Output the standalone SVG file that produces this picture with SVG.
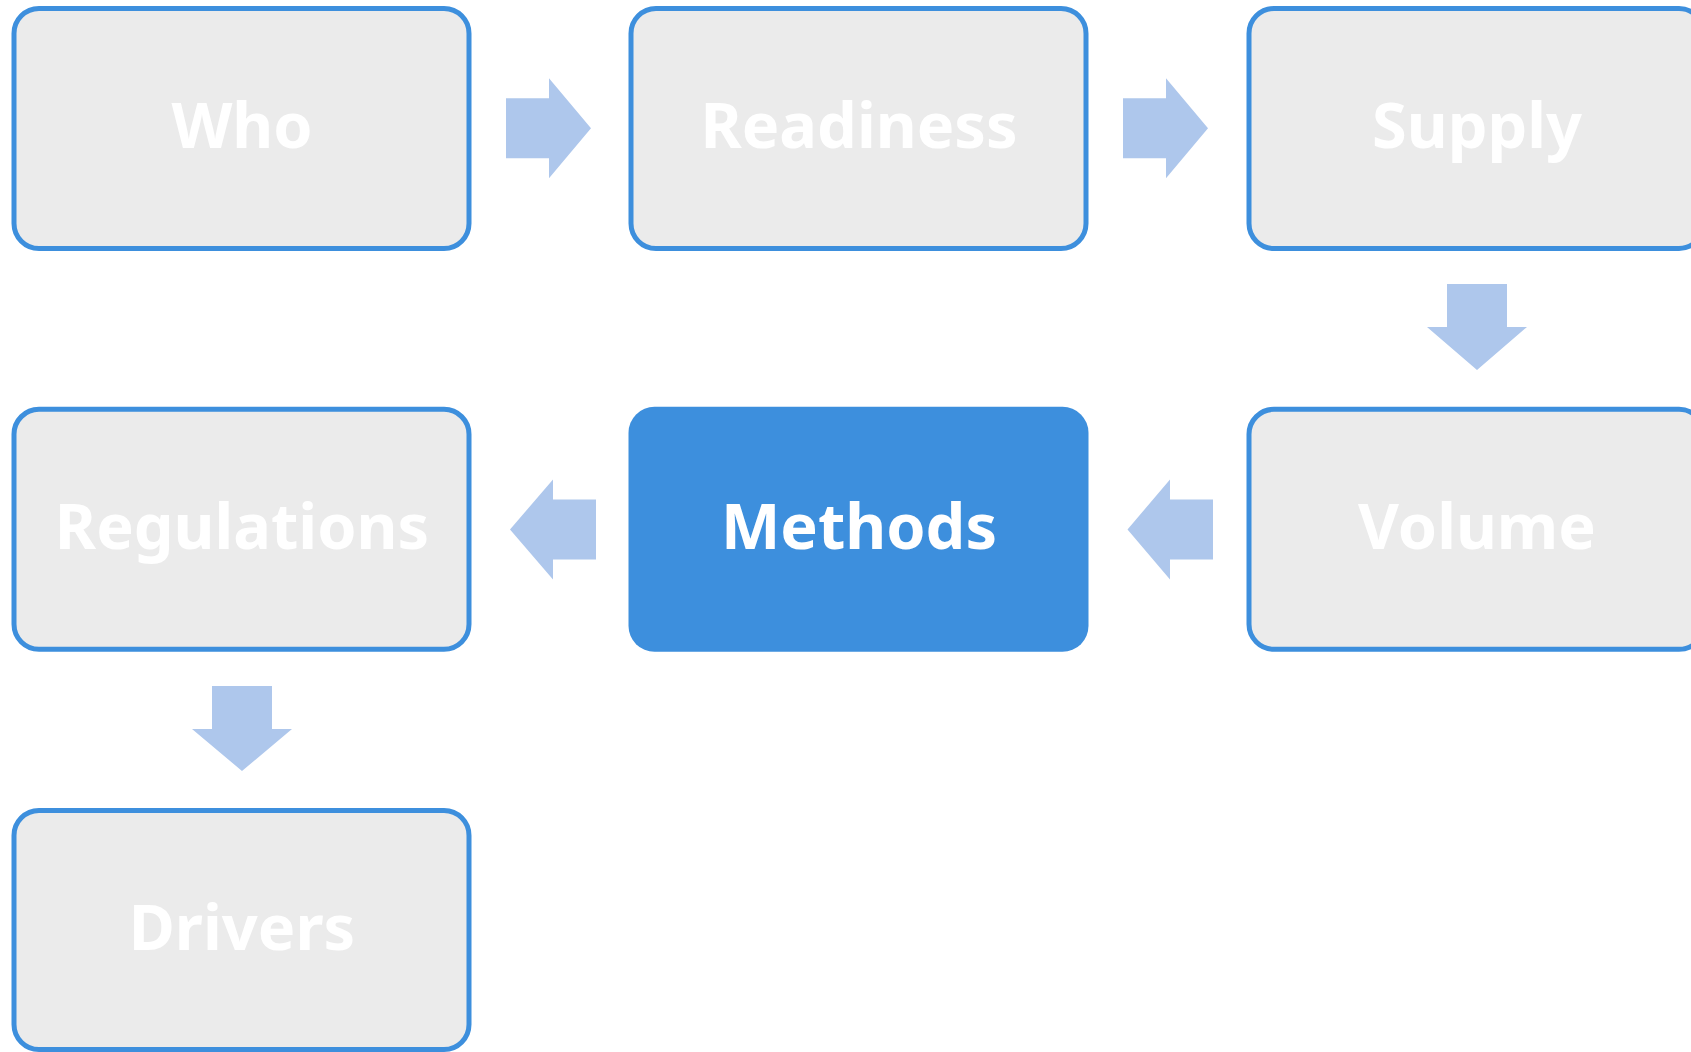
<svg xmlns="http://www.w3.org/2000/svg" width="1691" height="1052" viewBox="0 0 1691 1052">
<style>
.box{fill:#ebebeb;stroke:#3d8fdd;stroke-width:5}
.hl{fill:#3d8fdd}
.lbl{font-family:"Noto Sans","Open Sans",sans-serif;font-weight:700;font-size:63px;fill:#ffffff;text-anchor:middle}
.arr{fill:#aec7ec}
</style>
<rect width="1691" height="1052" fill="#ffffff"/>
<g id="connectors">
<polygon class="arr" points="506,98.3 549,98.3 549,78.3 591,128.3 549,178.3 549,158.3 506,158.3"/>
<polygon class="arr" points="1123,98.3 1166,98.3 1166,78.3 1208,128.3 1166,178.3 1166,158.3 1123,158.3"/>
<polygon class="arr" points="1447,284 1507,284 1507,327 1527,327 1477,370 1427,327 1447,327"/>
<polygon class="arr" points="1213,499.5 1170,499.5 1170,479.5 1127.5,529.5 1170,579.5 1170,559.5 1213,559.5"/>
<polygon class="arr" points="596,499.5 553,499.5 553,479.5 510,529.5 553,579.5 553,559.5 596,559.5"/>
<polygon class="arr" points="212,686 272,686 272,729 292,729 242,771 192,729 212,729"/>
</g>
<g id="node-who">
<rect class="box" x="14" y="8.5" width="455" height="240" rx="25"/>
<text class="lbl" x="242" y="147.5">Who</text>
</g>
<g id="node-readiness">
<rect class="box" x="631" y="8.5" width="455" height="240" rx="25"/>
<text class="lbl" x="859" y="147.5">Readiness</text>
</g>
<g id="node-supply">
<rect class="box" x="1249" y="8.5" width="455" height="240" rx="25"/>
<text class="lbl" x="1477" y="147.5">Supply</text>
</g>
<g id="node-volume">
<rect class="box" x="1249" y="409.3" width="455" height="240" rx="25"/>
<text class="lbl" x="1477" y="548.7">Volume</text>
</g>
<g id="node-methods">
<rect class="hl" x="628.5" y="406.8" width="460" height="245" rx="26"/>
<text class="lbl" x="859" y="548.7">Methods</text>
</g>
<g id="node-regulations">
<rect class="box" x="14" y="409.3" width="455" height="240" rx="25"/>
<text class="lbl" x="242" y="548.7">Regulations</text>
</g>
<g id="node-drivers">
<rect class="box" x="14" y="810.5" width="455" height="239" rx="25"/>
<text class="lbl" x="242" y="950">Drivers</text>
</g>
</svg>
